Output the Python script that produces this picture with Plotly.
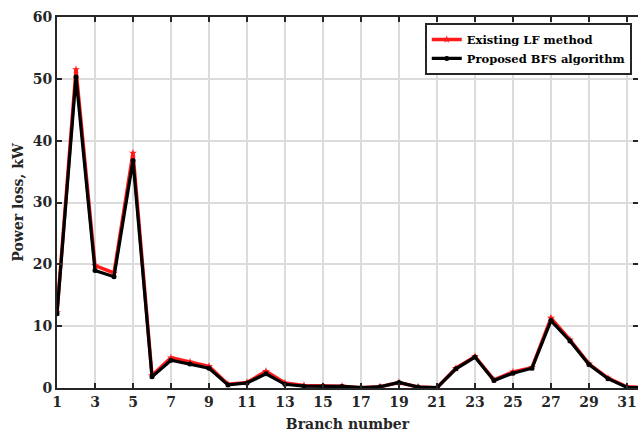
import plotly.graph_objects as go

branches = list(range(1, 33))
existing_lf = [12.2, 51.5, 19.8, 18.6, 38.0, 2.0, 4.9, 4.2, 3.5, 0.6, 0.9, 2.7, 0.8, 0.4,
               0.3, 0.3, 0.05, 0.2, 0.9, 0.15, 0.05, 3.2, 5.1, 1.3, 2.6, 3.3, 11.3, 7.8,
               3.9, 1.6, 0.2, 0.05]
proposed_bfs = [12.0, 50.3, 19.0, 18.0, 36.8, 1.8, 4.5, 3.9, 3.2, 0.5, 0.8, 2.3, 0.6, 0.3,
                0.3, 0.25, 0.05, 0.2, 0.9, 0.15, 0.05, 3.1, 5.0, 1.2, 2.4, 3.2, 10.9, 7.6,
                3.8, 1.5, 0.1, 0.05]
x_ticks = list(range(1, 33, 2))
y_ticks = [0, 10, 20, 30, 40, 50, 60]

font_family = "DejaVu Serif"

fig = go.Figure()
fig.add_trace(go.Scatter(
    x=branches, y=existing_lf, mode="lines+markers", name="<b>Existing LF method</b>",
    line=dict(color="#ff1a1a", width=3.5),
    marker=dict(symbol="star", size=6, color="#ff1a1a"),
))
fig.add_trace(go.Scatter(
    x=branches, y=proposed_bfs, mode="lines+markers", name="<b>Proposed BFS algorithm</b>",
    line=dict(color="#000000", width=3.2),
    marker=dict(symbol="circle", size=5, color="#000000"),
))

axis_common = dict(
    showline=True, linecolor="#262626", linewidth=2, mirror="ticks",
    ticks="inside", ticklen=5, tickcolor="#262626", tickwidth=2,
    showgrid=True, gridcolor="#dcdcdc", gridwidth=1.5, zeroline=False,
    automargin=False,
    tickfont=dict(family=font_family, size=14, color="#262626"),
)

fig.update_layout(
    width=638, height=433,
    margin=dict(l=57, r=0, t=17, b=45),
    paper_bgcolor="white", plot_bgcolor="white",
    font=dict(family=font_family, color="#262626"),
    showlegend=True,
    legend=dict(
        x=0.633, y=0.984, xanchor="left", yanchor="top",
        bgcolor="white", bordercolor="#262626", borderwidth=2,
        font=dict(family=font_family, size=11.5, color="#000000"),
        tracegroupgap=0, itemwidth=30,
    ),
    xaxis=dict(
        range=[1, 31.58], tickvals=x_ticks, ticktext=[f"<b>{v}</b>" for v in x_ticks],
        title=dict(text="<b>Branch number</b>", font=dict(family=font_family, size=14, color="#262626"), standoff=10),
        **axis_common,
    ),
    yaxis=dict(
        range=[0, 60], tickvals=y_ticks, ticktext=[f"<b>{v}</b>" for v in y_ticks],
        title=dict(text="<b>Power loss, kW</b>", font=dict(family=font_family, size=14, color="#262626"), standoff=6),
        **axis_common,
    ),
)

fig.write_html(
    "out.html",
    config={"displayModeBar": False},
    post_script="document.body.style.margin='0';document.body.style.overflow='hidden';",
)
